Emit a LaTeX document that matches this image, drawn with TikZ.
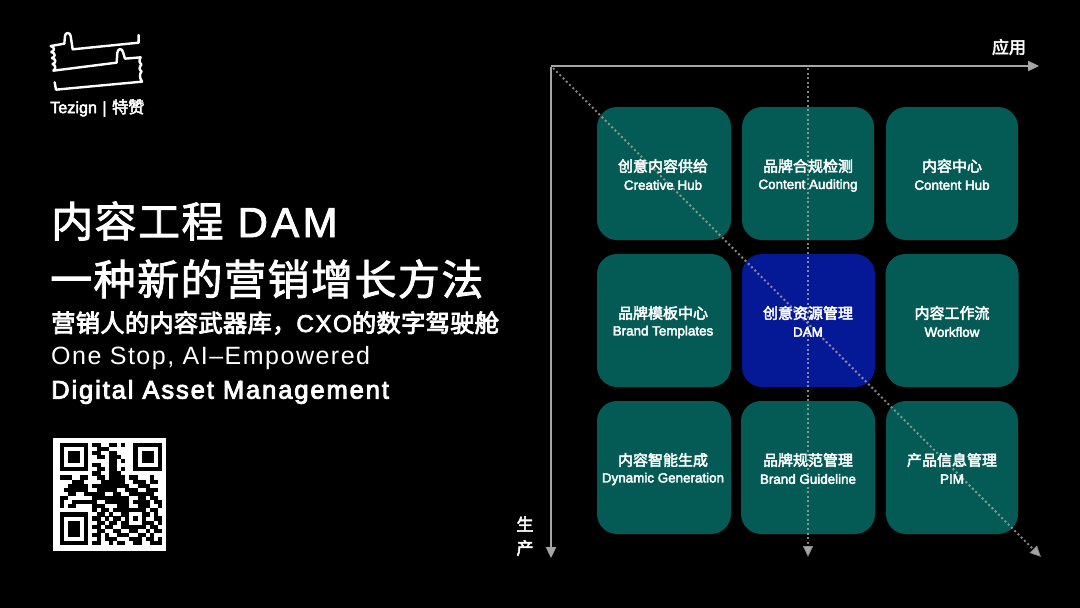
\documentclass[tikz,border=0pt]{standalone}
\usepackage{fontspec}
\usetikzlibrary{arrows.meta}
\setmainfont{Liberation Sans}
\newfontfamily\cjkm[FakeBold=3]{Noto Sans CJK SC}
\newfontfamily\cjkt[LetterSpace=3.5,FakeBold=2]{Noto Sans CJK SC}
\newfontfamily\cjks[LetterSpace=1,FakeBold=3.5]{Noto Sans CJK SC}
\newfontfamily\latt[LetterSpace=8,FakeBold=2]{Liberation Sans}
\newfontfamily\latc[LetterSpace=6,FakeBold=3]{Liberation Sans}
\newfontfamily\lats[LetterSpace=6]{Liberation Sans}
\newfontfamily\latb[LetterSpace=7.5,FakeBold=3.5]{Liberation Sans}
\newfontfamily\latl[FakeBold=3]{Liberation Sans}
\definecolor{tealtile}{RGB}{4,90,84}
\definecolor{bluetile}{RGB}{5,24,150}
\definecolor{axisgrey}{RGB}{165,165,165}
\tikzset{
  x=1pt,y=-1pt,
  tile/.style={draw=none,fill=tealtile,rounded corners=20pt,minimum width=#1,minimum height=133pt,inner sep=0pt,outer sep=0pt},
  tile/.default=133pt,
  cn/.style={inner sep=0pt,text=white,font=\fontsize{15}{15}\cjkm},
  en/.style={inner sep=0pt,text=white,font=\fontsize{13.4}{14}\latl},
  axis/.style={draw=axisgrey,line width=2.3pt,-{Triangle[length=11pt,width=10pt]}},
  dots/.style={draw=axisgrey,draw opacity=.8,line width=2pt,dash pattern=on 2pt off 2.6pt,-{Triangle[length=11pt,width=10pt,fill=axisgrey]}},
  head/.style={anchor=west,inner sep=0pt,text=white},
  logoline/.style={draw=white,line width=2.4pt,line join=round,line cap=round},
}
\newcount\qrc
\newcount\qrr
\def\qrscan#1{\ifx#1;\else\if#11\fill[black] (59.6+4.1*\the\qrc,442.6+4.1*\the\qrr) rectangle ++(4.2,4.2);\fi\advance\qrc by 1 \expandafter\qrscan\fi}
\def\qrrow#1{\qrc=0 \qrscan#1;\advance\qrr by 1 }
\begin{document}
\begin{tikzpicture}
\useasboundingbox[fill=black] (0,0) rectangle (1080,608);
% logo
\begin{scope}[shift={(30,20)},x=.3333pt,y=-.3333pt]
\draw[logoline] (326,45) -- (326,68) -- (128,88) -- (122,48) .. controls (120,36) and (106,36) .. (105,48) -- (103,71) -- (62,78)
  .. controls (75,82) and (75,92) .. (64,96) .. controls (77,100) and (77,110) .. (66,114) .. controls (79,118) and (79,128) .. (68,132) .. controls (78,136) and (78,146) .. (70,152)
  -- (260,128) -- (262,98) .. controls (264,84) and (276,84) .. (279,96) -- (285,116) -- (332,112)
  .. controls (327,122) and (327,130) .. (334,134) .. controls (327,142) and (327,150) .. (335,154) .. controls (328,162) and (328,172) .. (336,185)
  -- (78,209) -- (74,187);
\end{scope}
\node[head,font=\fontsize{16.2}{16}\latl] (brand) at (50,108) {Tezign\,\,|\,\,{\cjkm 特赞}};
% heading
\node[head,font=\fontsize{42}{43}\cjkt] (t1) at (51,221) {内容工程\,\,{\latt DAM}};
\node[head,font=\fontsize{42}{43}\cjkt] (t2) at (50,279) {一种新的营销增长方法};
\node[head,font=\fontsize{24.3}{25}\cjks] (t3) at (51,323) {营销人的内容武器库，{\latc CXO}的数字驾驶舱};
\node[head,font=\fontsize{25}{26}\lats] (t4) at (51,358) {One Stop, AI–Empowered};
\node[head,font=\fontsize{25.5}{26}\latb] (t5) at (51,392) {Digital Asset Management};
% QR
\fill[white] (53,438) rectangle (166,551);
\qrr=0
\qrrow{1111111011001101001111111}
\qrrow{1000001001110000001000001}
\qrrow{1011101011001100001011101}
\qrrow{1011101001101110001011101}
\qrrow{1011101000001101001011101}
\qrrow{1000001011001100001000001}
\qrrow{1111111001101101001111111}
\qrrow{0000000011001110000000000}
\qrrow{1110011001101111011000100}
\qrrow{0001110000111111001110110}
\qrrow{0011111011111111100111000}
\qrrow{0111111001111100111001110}
\qrrow{0011001111100110011111100}
\qrrow{1100000011111111100110110}
\qrrow{1001111110011111101111011}
\qrrow{1011000011100011100111001}
\qrrow{0000000010110111111110110}
\qrrow{1111111001101001100011010}
\qrrow{1000001011010110101010011}
\qrrow{1011101001101101100011101}
\qrrow{1011101011011001111110110}
\qrrow{1011101001100110011001011}
\qrrow{1011101011010011100110100}
\qrrow{1000001001011100011101101}
\qrrow{1111111011001011001100111}
% tiles
\node[tile=134pt] (a1) at (664,173.5) {};
\node[tile=132pt] (a2) at (808,173.5) {};
\node[tile=132pt] (a3) at (952,173.5) {};
\node[tile=134pt] (b1) at (664,320.5) {};
\node[tile=133pt,fill=bluetile] (b2) at (808.5,320.5) {};
\node[tile=133pt] (b3) at (952,320.5) {};
\node[tile=134pt] (c1) at (664,467.5) {};
\node[tile=134pt] (c2) at (808,467.5) {};
\node[tile=132pt] (c3) at (952,467.5) {};
% axes
\coordinate (o) at (551,66);
\coordinate (xend) at (1039,66);
\coordinate (yend) at (551,558);
\coordinate (ms) at (808,68);
\coordinate (me) at (808,557);
\coordinate (ds) at (553,68);
\coordinate (de) at (1041,557);
\draw[axis] (o) -- (xend);
\draw[axis] ([yshift=-1pt]o) -- (yend);
\draw[dots] (ms) -- (me);
\draw[dots] (ds) -- (de);
% tile labels
\node[cn] (a1c) at (663,166) {创意内容供给};
\node[en] (a1e) at (663,185) {Creative Hub};
\node[cn] (a2c) at (808,166) {品牌合规检测};
\node[en] (a2e) at (808,185.5) {Content Auditing};
\node[cn] (a3c) at (952,166) {内容中心};
\node[en] (a3e) at (952,185) {Content Hub};
\node[cn] (b1c) at (663,313) {品牌模板中心};
\node[en] (b1e) at (663,332) {Brand Templates};
\node[cn] (b2c) at (808,313) {创意资源管理};
\node[en] (b2e) at (808,332) {DAM};
\node[cn] (b3c) at (952,313) {内容工作流};
\node[en] (b3e) at (952,332) {Workflow};
\node[cn] (c1c) at (663,460) {内容智能生成};
\node[en] (c1e) at (663,479) {Dynamic Generation};
\node[cn] (c2c) at (808,460) {品牌规范管理};
\node[en] (c2e) at (808,479) {Brand Guideline};
\node[cn] (c3c) at (952,460) {产品信息管理};
\node[en] (c3e) at (952,479) {PIM};
% axis labels
\node[cn,font=\fontsize{17}{17}\cjkm] (xl) at (1009,47) {应用};
\node[cn,font=\fontsize{17}{17}\cjkm] (yl1) at (525,524) {生};
\node[cn,font=\fontsize{17}{17}\cjkm] (yl2) at (525,548) {产};
\end{tikzpicture}
\end{document}
